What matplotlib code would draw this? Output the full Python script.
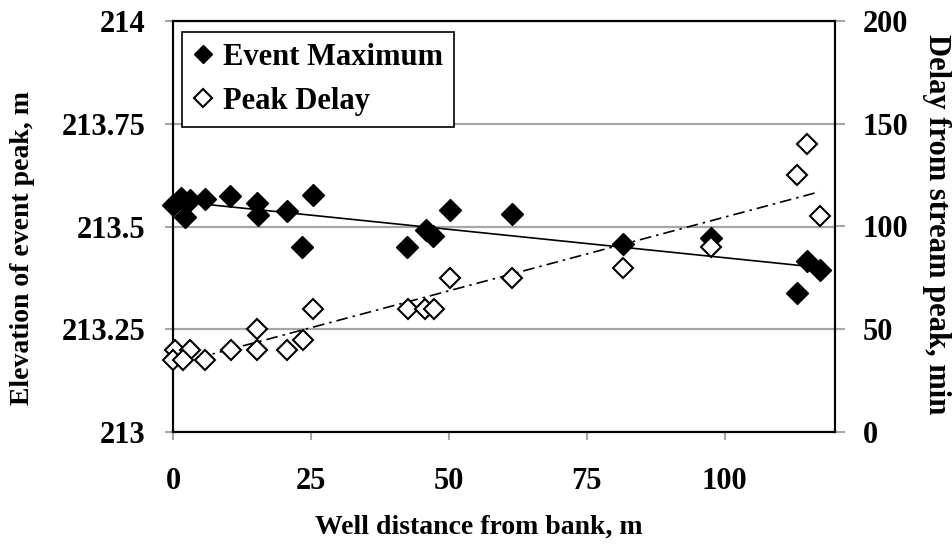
import numpy as np
import matplotlib
matplotlib.use("Agg")
import matplotlib.pyplot as plt
from matplotlib.lines import Line2D

plt.rcParams["font.family"] = ["Liberation Serif", "DejaVu Serif"]
plt.rcParams["font.weight"] = "bold"

# Event maximum water elevation at each well (left axis)
event_dist = [0.0, 1.5, 2.2, 3.0, 5.8, 10.4, 15.2, 15.4, 20.6, 23.4, 25.4,
              42.4, 45.9, 47.1, 50.3, 61.4, 81.6, 97.5, 113.1, 114.9, 117.2]
event_max = [213.553, 213.569, 213.524, 213.565, 213.567, 213.575, 213.558,
             213.527, 213.537, 213.451, 213.577,
             213.449, 213.492, 213.477, 213.541, 213.530, 213.458, 213.472,
             213.338, 213.415, 213.395]

# Delay of the well peak behind the stream peak (right axis)
delay_dist = [0.3, 0.0, 3.1, 1.9, 5.8, 10.5, 15.2, 15.2, 20.6, 23.6, 25.4,
              42.6, 45.6, 47.4, 50.3, 61.4, 81.6, 97.5, 113.1, 114.9, 117.2]
delay_min = [40, 35, 40, 35, 35, 40, 50, 40, 40, 45, 60,
             60, 60, 60, 75, 75, 80, 90, 125, 140, 105]

x_ticks = [0, 25, 50, 75, 100]
left_ticks = [213, 213.25, 213.5, 213.75, 214]
left_labels = ["213", "213.25", "213.5", "213.75", "214"]
right_ticks = [0, 50, 100, 150, 200]

fig = plt.figure(figsize=(9.53, 5.54), dpi=100)
ax = fig.add_axes([173 / 953, 1 - 432 / 554, (835 - 173) / 953, (432 - 21) / 554])
ax2 = ax.twinx()

FS_TICK = 22
FS_LAB = 20
grey = "#a6a6a6"

ax.set_xlim(0, 120)
ax.set_ylim(213, 214)
ax2.set_ylim(0, 200)

ax.set_yticks(left_ticks)
ax.set_yticklabels(left_labels)
ax.set_xticks(x_ticks)
ax2.set_yticks(right_ticks)

ax.yaxis.grid(True, color=grey, lw=1.6)
ax.set_axisbelow(True)

for a in (ax, ax2):
    for s in a.spines.values():
        s.set_color("black")
        s.set_linewidth(1.5)
ax.tick_params(axis="y", direction="out", length=6, width=1.5, color=grey,
               labelsize=FS_TICK, pad=14)
ax.tick_params(axis="x", direction="out", length=6, width=1.5, color=grey,
               labelsize=FS_TICK, pad=19)
ax2.tick_params(axis="y", direction="out", length=7, width=1.5, color=grey,
                labelsize=FS_TICK, pad=13)

# Linear trend lines over the sampled distance range
ev_fit = np.polyfit(event_dist, event_max, 1)
de_fit = np.polyfit(delay_dist, delay_min, 1)
xe = np.array([min(event_dist), max(event_dist)])
xd = np.array([min(delay_dist), max(delay_dist)])
ax.plot(xe, np.polyval(ev_fit, xe), color="black", lw=1.2, zorder=2)
ax2.plot(xd, np.polyval(de_fit, xd), color="black", lw=1.2,
         dashes=(7, 3, 1.5, 3), zorder=2)

ax.plot(event_dist, event_max, ls="none", marker="D", ms=11,
        mfc="black", mec="black", mew=1, zorder=3, clip_on=False)
ax2.plot(delay_dist, delay_min, ls="none", marker="D", ms=10,
         mfc="white", mec="black", mew=1.5, zorder=3, clip_on=False)

ax.set_xlabel("Well distance from bank, m", fontsize=FS_LAB, fontweight="bold",
              va="center")
ax.xaxis.set_label_coords(0.462, -0.231)
ax.set_ylabel("Elevation of event peak, m", fontsize=FS_LAB, fontweight="bold",
              va="center")
ax.yaxis.set_label_coords(-0.228, 0.448)
ax2.set_ylabel("Delay from stream peak, min", fontsize=FS_TICK, fontweight="bold",
               rotation=270, va="center")
ax2.yaxis.set_label_coords(1.154, 0.506)

handles = [
    Line2D([], [], ls="none", marker="D", ms=9.5, mfc="black", mec="black"),
    Line2D([], [], ls="none", marker="D", ms=9, mfc="white", mec="black", mew=1.5),
]
leg = ax2.legend(handles, ["Event Maximum", "Peak Delay"], loc="upper left",
                 bbox_to_anchor=(0.0136, 0.973), borderaxespad=0,
                 prop={"weight": "bold", "size": FS_TICK},
                 handlelength=0.7, handletextpad=0.3, labelspacing=0.5,
                 borderpad=0.35, fancybox=False, framealpha=1,
                 edgecolor="black")
leg.get_frame().set_linewidth(1.2)

fig.savefig("out.png", dpi=100)
